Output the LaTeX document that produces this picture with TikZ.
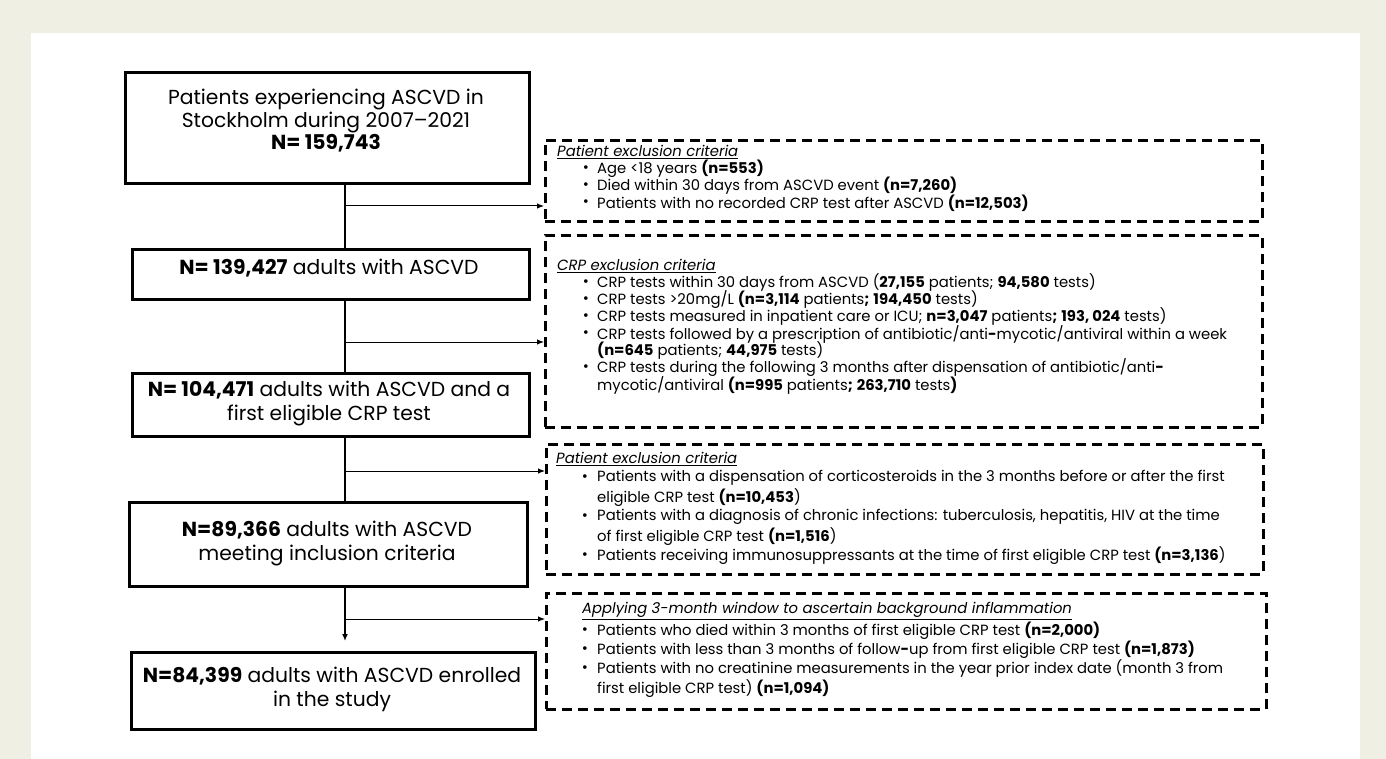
\documentclass[tikz,border=0pt]{standalone}
\usepackage{fontspec}
\setmainfont{Poppins}
\usetikzlibrary{arrows.meta}
\definecolor{beige}{RGB}{239,239,227}
\begin{document}
\begin{tikzpicture}[x=1pt,y=-1pt,
  mainbox/.style={draw, line width=2.8pt, inner sep=0pt, anchor=north west},
  exbox/.style={draw, line width=2.8pt, dash pattern=on 10pt off 6pt, inner sep=0pt, anchor=north west},
  boxtext/.style={align=center, inner sep=0pt, font=\fontsize{20.3}{24}\selectfont},
  lt/.style={anchor=west, inner sep=0pt, font=\fontsize{14.8}{17}\selectfont},
  ttl/.style={anchor=west, inner sep=0pt, font=\fontsize{14.8}{17}\selectfont\itshape},
  bul/.style={anchor=center, inner sep=0pt, font=\fontsize{14.8}{17}\selectfont},
  mainline/.style={line width=2.4pt},
  thinarrow/.style={line width=1pt, -{Latex[length=7pt,width=5.5pt]}}]
\fill[beige] (0,0) rectangle (1386,759);
\fill[white] (31,33) rectangle (1360,759);

% main boxes
\node[mainbox, minimum width=404pt, minimum height=111pt] (b1) at (124,71) {};
\node[mainbox, minimum width=397pt, minimum height=50pt] (b2) at (131,248) {};
\node[mainbox, minimum width=397pt, minimum height=63pt] (b3) at (131,372) {};
\node[mainbox, minimum width=398pt, minimum height=84pt] (b4) at (128,501) {};
\node[mainbox, minimum width=404pt, minimum height=77pt] (b5) at (130,651) {};

\node[boxtext, font=\fontsize{20.3}{22.5}\selectfont] (t1) at (326,121) {Patients experiencing ASCVD in\\Stockholm during 2007--2021\\\textbf{N= 159,743}};
\node[boxtext] (t2) at (329,268) {\textbf{N= 139,427} adults with ASCVD};
\node[boxtext] (t3) at (329,403.5) {\textbf{N= 104,471} adults with ASCVD and a\\first eligible CRP test};
\node[boxtext] (t4) at (327,543.5) {\textbf{N=89,366} adults with ASCVD\\meeting inclusion criteria};
\node[boxtext] (t5) at (332,689.5) {\textbf{N=84,399} adults with ASCVD enrolled\\in the study};

% exclusion boxes
\node[exbox, minimum width=717pt, minimum height=81pt] (d1) at (544,139) {};
\node[exbox, minimum width=717pt, minimum height=192pt] (d2) at (544,234) {};
\node[exbox, minimum width=717pt, minimum height=130pt] (d3) at (545,443) {};
\node[exbox, minimum width=720pt, minimum height=116pt] (d4) at (545,592) {};

% D1
\node[ttl] (d1t) at (557,152) {\underline{Patient exclusion criteria}};
\node[bul] (d1b1) at (586,169) {•};
\node[lt] (d1l1) at (597,169) {Age <18 years \textbf{(n=553)}};
\node[bul] (d1b2) at (586,186) {•};
\node[lt] (d1l2) at (597,186) {Died within 30 days from ASCVD event \textbf{(n=7,260)}};
\node[bul] (d1b3) at (586,203) {•};
\node[lt] (d1l3) at (597,203) {Patients with no recorded CRP test after ASCVD \textbf{(n=12,503)}};

% D2
\node[ttl] (d2t) at (557,266) {\underline{CRP exclusion criteria}};
\node[bul] (d2b1) at (586,283) {•};
\node[lt] (d2l1) at (597,283) {CRP tests within 30 days from ASCVD (\textbf{27,155} patients; \textbf{94,580} tests)};
\node[bul] (d2b2) at (586,300) {•};
\node[lt] (d2l2) at (597,300) {CRP tests >20mg/L \textbf{(n=3,114} patients\textbf{;} \textbf{194,450} tests)};
\node[bul] (d2b3) at (586,317) {•};
\node[lt] (d2l3) at (597,317) {CRP tests measured in inpatient care or ICU; \textbf{n=3,047} patients\textbf{;} \textbf{193, 024} tests)};
\node[bul] (d2b4) at (586,334) {•};
\node[lt] (d2l4) at (597,334) {CRP tests followed by a prescription of antibiotic/anti\textbf{-}mycotic/antiviral within a week};
\node[lt] (d2l5) at (597,351) {\textbf{(n=645} patients; \textbf{44,975} tests)};
\node[bul] (d2b5) at (586,368) {•};
\node[lt] (d2l6) at (597,368) {CRP tests during the following 3 months after dispensation of antibiotic/anti\textbf{-}};
\node[lt] (d2l7) at (597,385) {mycotic/antiviral \textbf{(n=995} patients\textbf{;} \textbf{263,710} tests\textbf{)}};

% D3
\node[ttl] (d3t) at (556,459) {\underline{Patient exclusion criteria}};
\node[bul] (d3b1) at (585,478) {•};
\node[lt] (d3l1) at (597,478) {Patients with a dispensation of corticosteroids in the 3 months before or after the first};
\node[lt] (d3l2) at (597,498) {eligible CRP test \textbf{(n=10,453})};
\node[bul] (d3b2) at (585,517) {•};
\node[lt] (d3l3) at (597,517) {Patients with a diagnosis of chronic infections: tuberculosis, hepatitis, HIV at the time};
\node[lt] (d3l4) at (597,537) {of first eligible CRP test \textbf{(n=1,516})};
\node[bul] (d3b3) at (585,556) {•};
\node[lt] (d3l5) at (597,556) {Patients receiving immunosuppressants at the time of first eligible CRP test \textbf{(n=3,136})};

% D4
\node[ttl] (d4t) at (582,611) {\underline{Applying 3-month window to ascertain background inflammation}};
\node[bul] (d4b1) at (585,631) {•};
\node[lt] (d4l1) at (597,631) {Patients who died within 3 months of first eligible CRP test \textbf{(n=2,000)}};
\node[bul] (d4b2) at (585,650) {•};
\node[lt] (d4l2) at (597,650) {Patients with less than 3 months of follow\textbf{-}up from first eligible CRP test \textbf{(n=1,873)}};
\node[bul] (d4b3) at (585,669) {•};
\node[lt] (d4l3) at (597,669) {Patients with no creatinine measurements in the year prior index date (month 3 from};
\node[lt] (d4l4) at (597,689) {first eligible CRP test) \textbf{(n=1,094)}};

% connectors
\coordinate (j1) at (345,206);
\coordinate (j2) at (345,342);
\coordinate (j3) at (345,471);
\coordinate (j4) at (345,619);
\draw[mainline] (b1.south -| j1) -- (b2.north -| j1);
\draw[mainline] (b2.south -| j2) -- (b3.north -| j2);
\draw[mainline] (b3.south -| j3) -- (b4.north -| j3);
\draw[mainline, -{Latex[length=7pt,width=6pt]}, shorten >=10pt] (b4.south -| j4) -- (b5.north -| j4);
\draw[thinarrow] (j1) -- (d1.west |- j1);
\draw[thinarrow] (j2) -- (d2.west |- j2);
\draw[thinarrow] (j3) -- (d3.west |- j3);
\draw[thinarrow] (j4) -- (d4.west |- j4);
\end{tikzpicture}
\end{document}
